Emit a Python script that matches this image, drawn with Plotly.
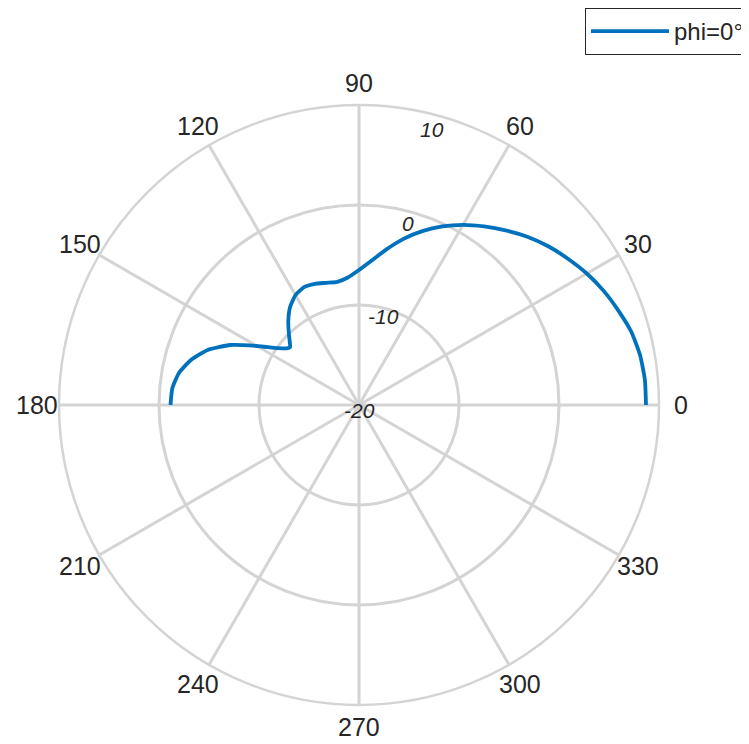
import math
import plotly.graph_objects as go

theta_deg = [0, 5, 10, 15, 20, 25, 30, 35, 40, 45, 50, 55, 60, 65, 70, 75, 80, 85, 90,
             95, 100, 105, 110, 115, 120, 125, 130, 135, 138, 140, 142, 145, 150, 155,
             160, 165, 170, 175, 180]
r_db = [8.7, 8.7, 8.55, 8.2, 7.6, 7.0, 6.3, 5.5, 4.7, 3.8, 2.8, 1.8, 0.8, -0.3, -1.5,
        -2.8, -4.2, -5.5, -6.5, -7.2, -7.5, -7.35, -7.1, -7.0, -7.3, -8.0, -9.0, -10.1,
        -10.7, -11.0, -10.8, -10.1, -8.2, -5.8, -3.9, -2.6, -1.7, -1.25, -1.15]

angle_ticks = [0, 30, 60, 90, 120, 150, 180, 210, 240, 270, 300, 330]
angle_labels = [str(a) for a in angle_ticks]
r_ticks = [-20, -10, 0, 10]
r_labels = ["-20", "-10", "0", "10"]
r_range = [-20, 10]
series_name = "phi=0°"

# page body has an 8px margin, so the figure is drawn 8px in from the top-left
OFF = 8
W, H = 749 - OFF, 744 - OFF
cx, cy, R = 359 - OFF, 405 - OFF, 300

def px(x):
    return x / W

def py(y):
    return 1 - y / H

fig = go.Figure()
fig.add_trace(go.Scatterpolar(
    r=r_db, theta=theta_deg, mode="lines", name=series_name,
    line=dict(color="#0072BD", width=3.8, shape="spline", smoothing=0.5),
))

grid = "#d4d4d4"
txt = "#262626"

annotations = []
# theta tick labels, centred on a circle just outside the plot (MATLAB style)
label_r = R + 22
for a, t in zip(angle_ticks, angle_labels):
    ang = math.radians(a)
    annotations.append(dict(
        x=px(cx + label_r * math.cos(ang)), y=py(cy - label_r * math.sin(ang)),
        xref="paper", yref="paper", text=t, showarrow=False,
        xanchor="center", yanchor="middle", font=dict(size=25, color=txt),
    ))
# r tick labels, centred near each ring along the 75 deg direction
lab_ang = math.radians(75.3)
for v, t in zip(r_ticks, r_labels):
    rp = (v - r_range[0]) / (r_range[1] - r_range[0]) * R * 0.965
    annotations.append(dict(
        x=px(cx + rp * math.cos(lab_ang)), y=py(cy + 5 - rp * math.sin(lab_ang)),
        xref="paper", yref="paper", text=t, showarrow=False,
        xanchor="center", yanchor="middle",
        font=dict(size=21, color=txt, style="italic"),
    ))

fig.update_layout(
    width=W, height=H,
    margin=dict(l=0, r=0, t=0, b=0),
    paper_bgcolor="white",
    font=dict(family="Liberation Sans, Arial, sans-serif", color=txt),
    polar=dict(
        domain=dict(x=[(cx - R) / W, (cx + R) / W], y=[1 - (cy + R) / H, 1 - (cy - R) / H]),
        bgcolor="white",
        angularaxis=dict(
            direction="counterclockwise", rotation=0,
            tickmode="array", tickvals=angle_ticks, ticktext=angle_labels,
            showticklabels=False,
            ticks="", showline=True, linecolor=grid, linewidth=2.5,
            gridcolor=grid, gridwidth=2.5,
        ),
        radialaxis=dict(
            range=r_range, angle=80,
            tickmode="array", tickvals=r_ticks, ticktext=r_labels,
            showticklabels=False,
            ticks="", showline=False,
            gridcolor=grid, gridwidth=2.5,
        ),
    ),
    annotations=annotations,
    showlegend=True,
    legend=dict(
        x=1, y=1, xanchor="right", yanchor="top",
        bordercolor=txt, borderwidth=1, bgcolor="white",
        font=dict(size=24, color=txt), itemwidth=78,
    ),
)

fig.write_html("out.html")
